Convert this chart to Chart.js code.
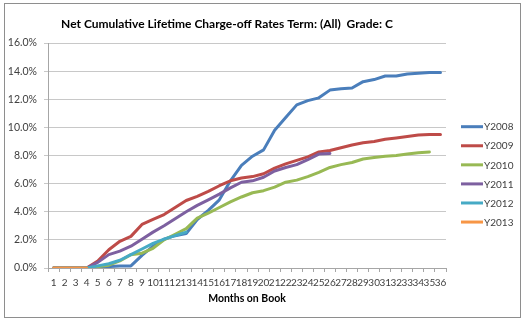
<!DOCTYPE html>
<html>
<head>
<meta charset="utf-8">
<script src="https://cdn.jsdelivr.net/npm/chart.js@4"></script>
<style>
body{margin:0;background:#fff;}
#wrap{position:relative;width:526px;height:322px;}
#grafico{position:absolute;left:0;top:0;}
#moldura{position:absolute;left:4px;top:3px;width:515px;height:313px;border:1px solid #8e8e8e;pointer-events:none;}
</style>
</head>
<body>
<div id="wrap">
<canvas id="grafico" width="526" height="322"></canvas>
<div id="moldura"></div>
</div>
<script>
const meses = [];
for(let m=1;m<=36;m++) meses.push(String(m));

const anos = ["Y2008","Y2009","Y2010","Y2011","Y2012","Y2013"];

const cores = ["#4a7ebb","#be4b48","#98b954","#7d60a0","#46aac5","#f79646"];

// % acumulado por mes
const y2008 = [0,0,0,0,0.05,0.1,0.15,0.15,0.9,1.55,2.05,2.3,2.45,3.45,4.1,4.85,6.2,7.3,7.95,8.4,9.8,10.7,11.6,11.9,12.1,12.65,12.75,12.8,13.25,13.4,13.65,13.65,13.8,13.85,13.9,13.9];
const y2009 = [0,0,0,0,0.5,1.3,1.9,2.25,3.1,3.45,3.8,4.3,4.8,5.1,5.45,5.85,6.2,6.4,6.5,6.7,7.1,7.4,7.65,7.9,8.25,8.35,8.55,8.75,8.9,9.0,9.15,9.25,9.35,9.45,9.5,9.5];
const y2010 = [0,0,0,0,0.1,0.2,0.5,0.95,1.05,1.4,2.0,2.4,2.8,3.55,3.9,4.3,4.7,5.05,5.35,5.5,5.75,6.1,6.25,6.5,6.8,7.15,7.35,7.5,7.75,7.85,7.95,8.0,8.1,8.2,8.25,null];
const y2011 = [0,0,0,0,0.4,0.95,1.2,1.55,2.05,2.55,3.0,3.5,4.0,4.45,4.85,5.25,5.7,6.1,6.2,6.45,6.9,7.15,7.35,7.7,8.1,8.15];
const y2012 = [0,0,0,0,0.15,0.3,0.55,0.95,1.35,1.75,2.05,2.3,2.55];
const y2013 = [0,0,0,0];

const series = [y2008,y2009,y2010,y2011,y2012,y2013];

const fonte = "Lato, 'Liberation Sans', sans-serif";

// titulo e legenda desenhados a mao
const extras = {
id:"extras",
afterDraw(chart){
const c = chart.ctx;
c.save();
c.fillStyle = "#000";
c.font = "bold 12px " + fonte;
c.textAlign = "center";
c.textBaseline = "middle";
c.fillText("Net Cumulative Lifetime Charge-off Rates Term: (All)  Grade: C", 227, 24);

c.font = "10px " + fonte;
c.textAlign = "left";
chart.data.datasets.forEach((ds,i)=>{
const y = 126.7 + i*19.07;
c.strokeStyle = ds.borderColor;
c.lineWidth = 3;
c.beginPath();
c.moveTo(461,y);
c.lineTo(483,y);
c.stroke();
c.fillStyle = "#404040";
c.fillText(ds.label, 484, y+0.5);
});
c.restore();
}
};

const ctx = document.getElementById("grafico");

new Chart(ctx,{
type:"line",
data:{
labels:meses,
datasets:anos.map((a,i)=>({
label:a,
data:series[i],
borderColor:cores[i],
backgroundColor:cores[i],
borderWidth:3,
borderJoinStyle:"round",
borderCapStyle:"round",
pointRadius:0,
tension:0,
order:anos.length-i
}))
},
options:{
responsive:false,
animation:false,
layout:{padding:{top:43,right:80,bottom:0,left:0}},
plugins:{legend:{display:false},title:{display:false},tooltip:{enabled:false}},
scales:{
x:{
offset:true,
grid:{offset:true,drawOnChartArea:false,tickLength:4,color:"#a6a6a6"},
border:{color:"#a6a6a6"},
ticks:{autoSkip:false,maxRotation:0,padding:5,color:"#404040",font:{family:fonte,size:10}},
title:{display:true,text:"Months on Book",color:"#000",font:{family:fonte,size:10.5,weight:"bold"},padding:{top:0,bottom:17}},
afterFit:s=>{s.height=54;}
},
y:{
min:0,max:16,
ticks:{stepSize:2,padding:7,color:"#404040",font:{family:fonte,size:10.5},callback:v=>v.toFixed(1)+"%"},
grid:{color:"#c8c8c8",tickLength:4},
border:{color:"#a6a6a6"},
afterFit:s=>{s.width=48;}
}
}
},
plugins:[extras]
});
</script>
</body>
</html>
